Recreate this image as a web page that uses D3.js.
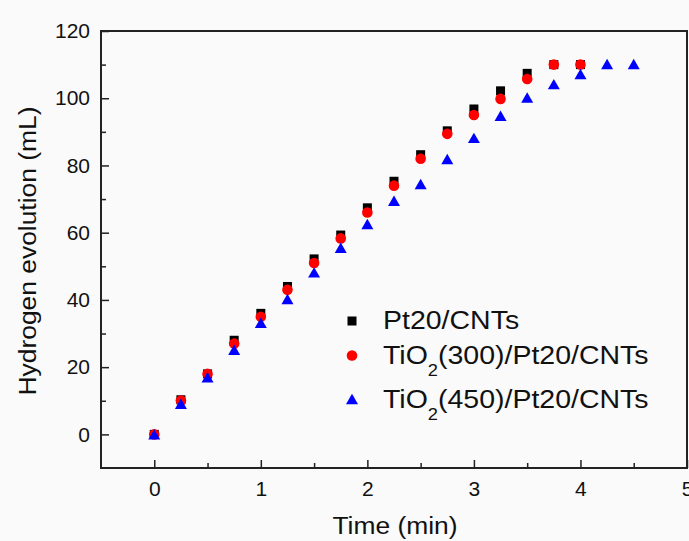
<!DOCTYPE html>
<html>
<head>
<meta charset="utf-8">
<script src="https://cdn.jsdelivr.net/npm/d3@7"></script>
<style>
	body { margin: 0; background: #fafafa; }
	svg { display: block; font-family: "Liberation Sans", Arial, sans-serif; }
</style>
</head>
<body>
<svg id="chart" width="689" height="541"></svg>
<script>
/**
 * ----------------------------------------------------------------------------------------------------------
 * Data
 */
var time = [0, 0.25, 0.5, 0.75, 1, 1.25, 1.5, 1.75, 2, 2.25, 2.5, 2.75, 3, 3.25, 3.5, 3.75, 4, 4.25, 4.5];

var pt20 = [0, 10.3, 18, 28, 36, 44, 52.2, 59.3, 67.4, 75.3, 83.2, 90.3, 96.8, 102.2, 107.4, 110, 110];
var tio300 = [0, 10.1, 18, 27, 35, 43, 51, 58.3, 66, 74, 82, 89.4, 95, 99.8, 105.7, 110, 110];
var tio450 = [0, 9.1, 17, 25.2, 33.2, 40.3, 48.2, 55.5, 62.6, 69.5, 74.5, 81.9, 88.2, 94.8, 100.2, 104.2, 107.2, 110.2, 110.2];

var xTicks = [0, 1, 2, 3, 4, 5];
var xMinor = [0.5, 1.5, 2.5, 3.5, 4.5];
var yTicks = [0, 20, 40, 60, 80, 100, 120];
var yMinor = [10, 30, 50, 70, 90, 110];

var seriesNames = ["Pt20/CNTs", "TiO2(300)/Pt20/CNTs", "TiO2(450)/Pt20/CNTs"];

/**
 * ----------------------------------------------------------------------------------------------------------
 * Setup
 */
var svg = d3.select("#chart");
// plot box (window.top is reserved, so prefixed names)
var boxL = 101, boxT = 31, boxR = 687, boxB = 468;
var sx = 1.1; // the figure font runs a bit wider than Arial

var x = d3.scaleLinear().domain([-0.5, 5]).range([boxL, boxR]);
var y = d3.scaleLinear().domain([-10, 120]).range([boxB, boxT]);

// axes, ticks pointing inwards
svg.append("g")
	.attr("transform", "translate(0," + boxB + ")")
	.call(d3.axisBottom(x).tickValues(xTicks).tickSize(-8).tickPadding(13).tickFormat(d3.format("d")));
svg.append("g")
	.attr("transform", "translate(0," + boxB + ")")
	.call(d3.axisBottom(x).tickValues(xMinor).tickSize(-5).tickFormat(""));
svg.append("g")
	.attr("transform", "translate(" + boxL + ",0)")
	.call(d3.axisLeft(y).tickValues(yTicks).tickSize(-8).tickPadding(11).tickFormat(d3.format("d")));
svg.append("g")
	.attr("transform", "translate(" + boxL + ",0)")
	.call(d3.axisLeft(y).tickValues(yMinor).tickSize(-5).tickFormat(""));

svg.selectAll(".domain").remove();
svg.selectAll(".tick line").attr("stroke", "#222").attr("stroke-width", 1.5);
svg.selectAll(".tick text").attr("font-size", 21).attr("fill", "#111").attr("font-family", "Liberation Sans, Arial, sans-serif");

// frame
svg.append("rect")
	.attr("x", boxL).attr("y", boxT)
	.attr("width", boxR - boxL).attr("height", boxB - boxT)
	.attr("fill", "none").attr("stroke", "#222").attr("stroke-width", 2);

/**
 * ----------------------------------------------------------------------------------------------------------
 * Markers
 */
var triPath = function(s) {
	var h = s * 0.87;
	return "M0," + (-h / 2) + "L" + (s / 2) + "," + (h / 2) + "L" + (-s / 2) + "," + (h / 2) + "Z";
};

svg.append("g").selectAll("rect")
	.data(pt20).enter().append("rect")
	.attr("x", function(d, i) { return x(time[i]) - 4.5; })
	.attr("y", function(d) { return y(d) - 4.5; })
	.attr("width", 9).attr("height", 9)
	.attr("fill", "#000");

svg.append("g").selectAll("circle")
	.data(tio300).enter().append("circle")
	.attr("cx", function(d, i) { return x(time[i]); })
	.attr("cy", function(d) { return y(d); })
	.attr("r", 5.3)
	.attr("fill", "#ff0000");

svg.append("g").selectAll("path")
	.data(tio450).enter().append("path")
	.attr("transform", function(d, i) { return "translate(" + x(time[i]) + "," + y(d) + ")"; })
	.attr("d", triPath(12))
	.attr("fill", "#0000ff");

/**
 * ----------------------------------------------------------------------------------------------------------
 * Axis titles
 */
svg.append("text")
	.attr("transform", "translate(395,534) scale(" + sx + ",1)")
	.attr("text-anchor", "middle")
	.attr("font-size", 24).attr("fill", "#111")
	.text("Time (min)");

svg.append("text")
	.attr("transform", "translate(36,251) rotate(-90) scale(" + sx + ",1)")
	.attr("text-anchor", "middle")
	.attr("font-size", 24).attr("fill", "#111")
	.text("Hydrogen evolution (mL)");

/**
 * ----------------------------------------------------------------------------------------------------------
 * Legend
 */
var legRows = [
	{ name: seriesNames[0], my: 321, ty: 329 },
	{ name: seriesNames[1], my: 355.5, ty: 364 },
	{ name: seriesNames[2], my: 399, ty: 408 }
];
var leg = svg.append("g");

leg.append("rect").attr("x", 352 - 4.5).attr("y", legRows[0].my - 4.5).attr("width", 9).attr("height", 9).attr("fill", "#000");
leg.append("circle").attr("cx", 352).attr("cy", legRows[1].my).attr("r", 5.3).attr("fill", "#ff0000");
leg.append("path").attr("transform", "translate(352," + legRows[2].my + ")").attr("d", triPath(12)).attr("fill", "#0000ff");

legRows.forEach(function(r) {
	var t = leg.append("text")
		.attr("transform", "translate(383," + r.ty + ") scale(1.14,1)")
		.attr("font-size", 25).attr("fill", "#111");
	// TiO2 gets a subscript 2
	if (r.name.indexOf("TiO2") === 0) {
		t.append("tspan").text("TiO");
		t.append("tspan").attr("font-size", 16).attr("dy", 12).text("2");
		t.append("tspan").attr("dy", -12).text(r.name.substring(4));
	} else {
		t.text(r.name);
	}
});
</script>
</body>
</html>
